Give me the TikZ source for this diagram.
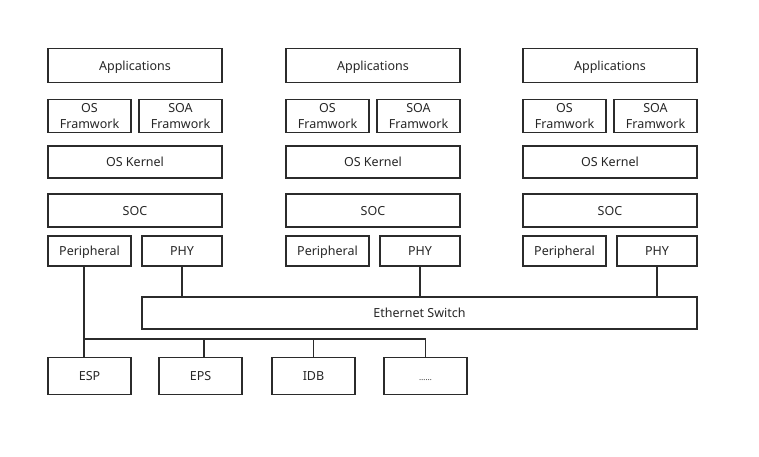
\documentclass[tikz,border=0pt]{standalone}
\usepackage{fontspec}
\setmainfont{Noto Sans}
\usetikzlibrary{positioning}
\definecolor{edge}{HTML}{2B2B2B}
\tikzset{
  blk/.style={draw=edge,line width=1.7pt,rectangle,inner sep=0pt,align=center,
    text=black!85,font=\fontsize{12.5}{16}\selectfont},
  one/.style={text height=9pt,text depth=0pt},
  wide/.style={blk,one,minimum width=174pt},
  half/.style={blk,one,minimum width=83pt},
  fw/.style={blk,minimum width=83pt,minimum height=33pt},
  wire/.style={draw=edge,line width=1.7pt}
}
\begin{document}
\begin{tikzpicture}[x=1pt,y=-1pt]
\useasboundingbox (0,0) rectangle (759,456);
\foreach \c/\dx in {1/0,2/238,3/475}{
  \node[wide,minimum height=34pt] (app\c) at (135+\dx,65.5) {Applications};
  \node[fw] (osf\c) at (89.5+\dx,116) {OS\\Framwork};
  \node[fw] (soaf\c) at (180.5+\dx,116) {SOA\\Framwork};
  \node[wide,minimum height=32pt] (kern\c) at (135+\dx,162) {OS Kernel};
  \node[wide,minimum height=33pt] (soc\c) at (135+\dx,210.5) {SOC};
  \node[half,minimum height=30pt] (per\c) at (89.5+\dx,251) {Peripheral};
  \node[blk,one,minimum width=80pt,minimum height=30pt] (phy\c) at (182+\dx,251) {PHY};
}
\node[blk,one,minimum width=555pt,minimum height=32pt] (sw) at (419.5,313) {Ethernet Switch};
\node[half,minimum height=37pt] (esp) at (89.5,376) {ESP};
\node[half,minimum height=37pt] (eps) at (200.5,376) {EPS};
\node[half,minimum height=37pt] (idb) at (313.5,376) {IDB};
\node[half,minimum height=37pt] (more) at (425.5,376) {\fontsize{8}{10}\selectfont ……};
\foreach \c in {1,2,3}
  \draw[wire] (phy\c.south) -- (phy\c.south |- sw.north);
\coordinate (bus) at (84,339);
\draw[wire] ([xshift=-5.5pt]per1.south) -- ([xshift=-5.5pt]esp.north);
\draw[wire] (bus) -- (bus -| more.north);
\draw[wire] (bus -| more.north) -- (more.north);
\draw[wire] (bus -| idb.north) -- (idb.north);
\draw[wire] ([xshift=3.5pt]eps.north) -- ++(0,-18.5);
\end{tikzpicture}
\end{document}
